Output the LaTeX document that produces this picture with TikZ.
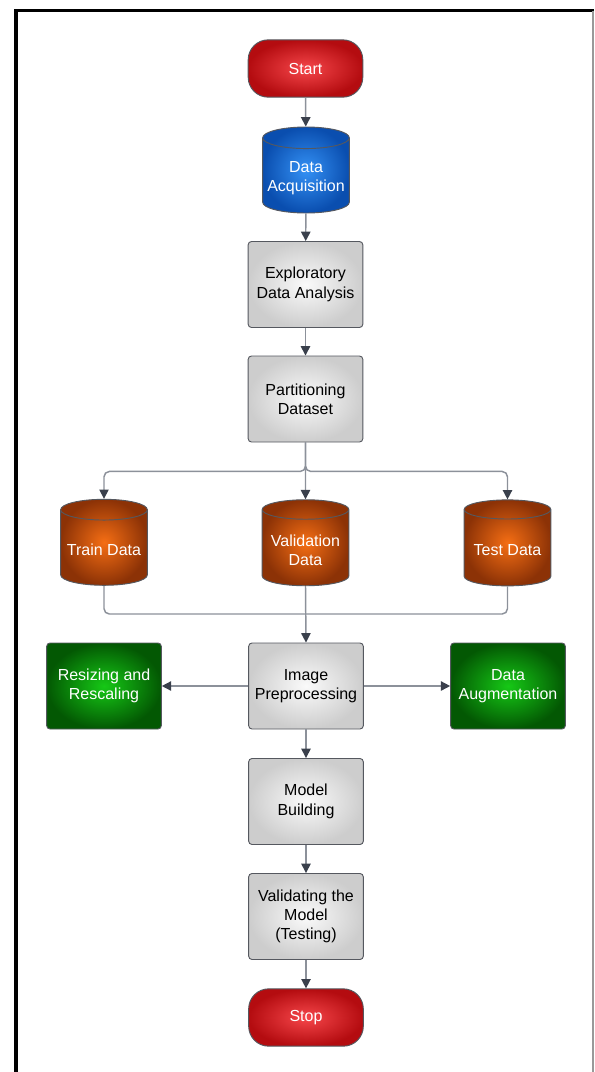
\documentclass[tikz,border=0pt]{standalone}
\usepackage{fontspec}
\setmainfont{Liberation Sans}
\usetikzlibrary{shapes.geometric,arrows.meta,calc}

\definecolor{linegray}{RGB}{140,145,154}
\definecolor{tipgray}{RGB}{58,64,76}
\definecolor{edgegray}{RGB}{85,88,95}
\definecolor{boxin}{RGB}{250,250,250}
\definecolor{boxout}{RGB}{205,205,205}
\definecolor{redin}{RGB}{246,70,74}
\definecolor{redout}{RGB}{180,12,16}
\definecolor{bluein}{RGB}{52,145,245}
\definecolor{blueout}{RGB}{10,78,175}
\definecolor{orangein}{RGB}{245,110,20}
\definecolor{orangeout}{RGB}{140,50,6}
\definecolor{greenin}{RGB}{22,200,22}
\definecolor{greenout}{RGB}{3,88,3}

\begin{document}
\begin{tikzpicture}[x=0.75pt,y=-0.75pt,
	every node/.style={font=\fontsize{12}{14.5}\selectfont, align=center},
	process/.style={draw=edgegray, line width=0.7pt, rounded corners=2.5pt, minimum width=86pt, minimum height=64.5pt, inner color=boxin, outer color=boxout},
	terminal/.style={draw=edgegray, line width=0.7pt, rounded corners=15pt, minimum width=86pt, minimum height=43pt, inner color=redin, outer color=redout, text=white},
	sidebox/.style={process, inner color=greenin, outer color=greenout, text=white},
	database/.style={cylinder, shape border rotate=90, aspect=0.25, draw=edgegray, line width=0.7pt, minimum width=65pt, minimum height=64.5pt, text=white},
	link/.style={draw=linegray, line width=1.1pt},
	conn/.style={link, -{Triangle[length=7pt,width=7pt,color=tipgray]}},
]

	\useasboundingbox (0,0) rectangle (594,1072);
	\draw[line width=3pt] (16,1072) -- (16,9.5); %left edge
	\draw[line width=2.3pt] (14,10.5) -- (594,10.5); %top edge
	\draw[line width=1.3pt, black!40] (593,10.5) -- (593,1072); %right edge

	\node[terminal] (start) at (305.5,68.5) {Start};
	\node[database, inner color=bluein, outer color=blueout] (acq) at (306,178) {Data\\Acquisition};
	\node[process] (eda) at (305.5,284.5) {Exploratory\\Data Analysis};
	\node[process] (part) at (305.5,399) {Partitioning\\Dataset};

	\node[database, inner color=orangein, outer color=orangeout] (train) at (104,550) {Train Data};
	\node[database, inner color=orangein, outer color=orangeout] (valid) at (305.5,550) {Validation\\Data};
	\node[database, inner color=orangein, outer color=orangeout] (test) at (507.5,550) {Test Data};
	\coordinate (merge) at (305.5,614);

	\node[process] (prep) at (306,686) {Image\\Preprocessing};
	\node[sidebox] (resize) at (104,686) {Resizing and\\Rescaling};
	\node[sidebox] (aug) at (508,686) {Data\\Augmentation};
	\node[process] (model) at (306,801.5) {Model\\Building};
	\node[process] (check) at (306,916.5) {Validating the\\Model\\(Testing)};
	\node[terminal] (stop) at (306,1017.5) {Stop};

	\draw[conn] (start) -- (acq);
	\draw[conn] (acq) -- (eda);
	\draw[conn] (eda) -- (part);
	\draw[conn, rounded corners=4pt] (part.south) -- ++(0,29) -| (train.north); %split
	\draw[conn, rounded corners=4pt] (part.south) -- ++(0,29) -| (test.north);
	\draw[conn] (part.south) -- (valid.north);
	\draw[link, rounded corners=4pt] (train.south) |- (merge); %join
	\draw[link, rounded corners=4pt] (test.south) |- (merge);
	\draw[conn] (valid.south) -- (prep.north);
	\draw[conn] (prep) -- (resize);
	\draw[conn] (prep) -- (aug);
	\draw[conn] (prep) -- (model);
	\draw[conn] (model) -- (check);
	\draw[conn] (check) -- (stop);

\end{tikzpicture}
\end{document}
